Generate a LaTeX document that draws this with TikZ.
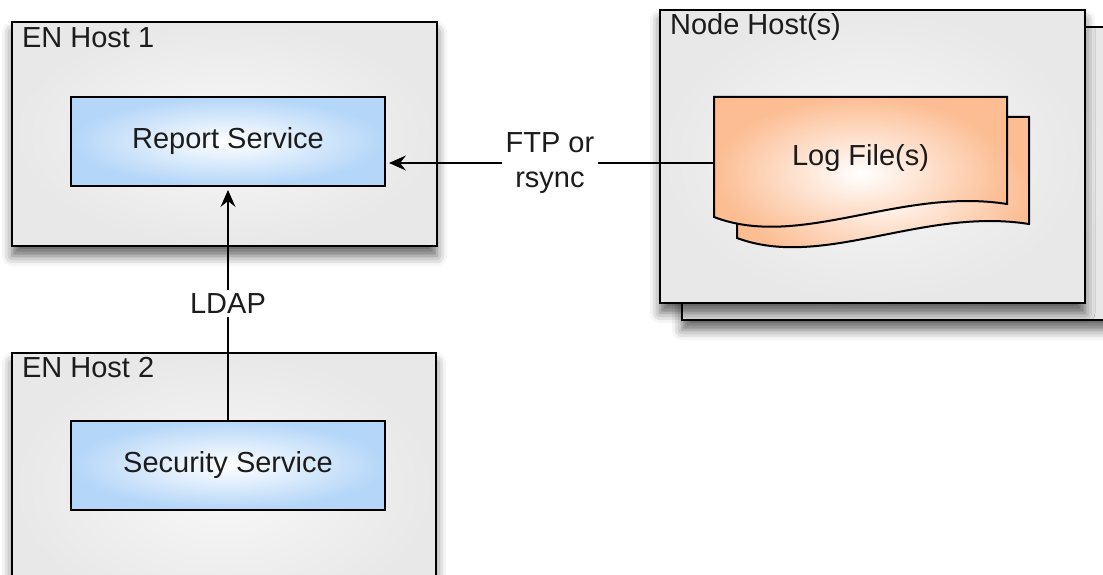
\documentclass[tikz,border=0pt]{standalone}
\usepackage{fontspec}
\setmainfont{Liberation Sans}
\usetikzlibrary{arrows.meta,shadows.blur}

\definecolor{hostGray}{HTML}{E8E8E8}
\definecolor{hostLight}{HTML}{F8F8F8}
\definecolor{serviceBlue}{HTML}{B4D6F8}
\definecolor{logOrange}{HTML}{FCBD93}
\definecolor{textDark}{HTML}{1C1C1C}

\begin{document}
\begin{tikzpicture}
            [x=1pt, y=-1pt,
             font=\fontsize{29}{35}\selectfont,
             text=textDark,
             hostBox/.style={rectangle,
                        draw,
                        line width=2.2pt,
                        inner color=hostLight,
                        outer color=hostGray,
                        blur shadow={shadow xshift=0pt, shadow yshift=-10pt,
                                     shadow blur radius=10pt, shadow opacity=60}},
             hostLabel/.style={anchor=north west, inner sep=0pt},
             serviceBox/.style={rectangle,
                        draw,
                        line width=2pt,
                        inner color=white,
                        outer color=serviceBlue,
                        minimum width=314pt,
                        minimum height=89pt},
             logShape/.style={draw, line width=2pt, inner color=white, outer color=logOrange},
             link/.style={line width=1.8pt, shorten >=3pt,
                        -{Stealth[length=17pt, width=15pt, inset=6pt]}}]

            \clip (0,0) rectangle (1103,575);

            \node[hostBox, minimum width=425pt, minimum height=224pt] (enHostOne) at (224.5,134) {};
            \node[hostBox, minimum width=424pt, minimum height=267pt] (enHostTwo) at (224,486.5) {};
            \node[hostBox, minimum width=433pt, minimum height=293pt] (nodeHostBack) at (898.5,173.5) {};
            \node[hostBox, minimum width=425pt, minimum height=293pt] (nodeHost) at (872.5,156.5) {};

            \node[hostLabel] (enHostOneLabel) at ([xshift=11pt, yshift=-6pt]enHostOne.north west) {EN Host 1};
            \node[hostLabel] (enHostTwoLabel) at ([xshift=11pt, yshift=-5pt]enHostTwo.north west) {EN Host 2};
            \node[hostLabel] (nodeHostLabel) at ([xshift=11pt, yshift=-4pt]nodeHost.north west) {Node Host(s)};

            \node[serviceBox] (reportService) at (228,141.5) {Report Service};
            \node[serviceBox] (securityService) at (228,465) {Security Service};

            % log files, stacked
            \draw[logShape] (737,117) -- (1029,117) -- (1029,224)
                  .. controls (922,207) and (823,270) .. (737,238) -- cycle;
            \draw[logShape] (714,97) -- (1007,97) -- (1007,204)
                  .. controls (900,187) and (800,250) .. (714,217) -- cycle;
            \node[minimum width=293pt, minimum height=120pt] (logFile) at (860.5,158) {Log File(s)};

            \draw [link] ([yshift=-5pt]logFile.west) -- ([yshift=-5pt]logFile.west -| reportService.east)
                  node [midway, fill=white, align=center] {FTP or\\rsync};
            \draw [link] (securityService) -- (reportService)
                  node [midway, fill=white] {LDAP};
        \end{tikzpicture}
\end{document}
